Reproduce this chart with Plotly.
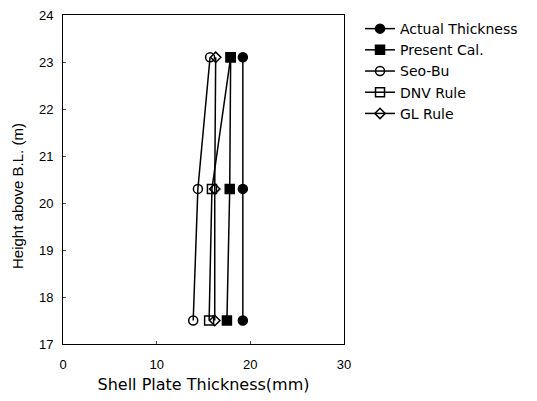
import plotly.graph_objects as go

height = [17.5, 20.3, 23.1]
actual = [19.2, 19.2, 19.2]
present = [17.5, 17.8, 17.9]
seobu = [13.9, 14.4, 15.7]
dnv = [15.6, 15.9, 17.9]
gl = [16.2, 16.2, 16.3]

names = ["Actual Thickness", "Present Cal.", "Seo-Bu", "DNV Rule", "GL Rule"]
symbols = ["circle", "square", "circle-open", "square-open", "diamond-open"]
sizes = [9, 9, 9, 9, 8]
series = [actual, present, seobu, dnv, gl]

fig = go.Figure()
for name, sym, sz, xs in zip(names, symbols, sizes, series):
    fig.add_trace(go.Scatter(
        x=xs, y=height, mode="lines+markers", name=name,
        line=dict(color="black", width=1.5),
        marker=dict(symbol=sym, size=sz, color="black", line=dict(color="black", width=1.5)),
    ))

fig.add_annotation(text="Height above B.L. (m)", textangle=-90,
                   xref="paper", yref="paper", x=-0.16, y=0.45,
                   showarrow=False, xanchor="center", yanchor="middle",
                   font=dict(size=15, family="Liberation Sans, Arial"))

fig.update_layout(
    width=537, height=401,
    margin=dict(l=63, r=193, t=15, b=57, autoexpand=False),
    paper_bgcolor="white", plot_bgcolor="white",
    font=dict(family="Liberation Sans, Arial, sans-serif", size=13, color="black"),
    legend=dict(x=1.057, y=1.006, xanchor="left", yanchor="top",
                font=dict(size=14, family="DejaVu Sans"), bgcolor="rgba(0,0,0,0)"),
    xaxis=dict(range=[0, 30], tickvals=[0, 10, 20, 30], ticks="inside", ticklen=3,
               showgrid=False, zeroline=False, showline=True, linecolor="black",
               linewidth=1, mirror=True, ticklabelstandoff=8,
               title=dict(text="Shell Plate Thickness(mm)", standoff=8,
                          font=dict(size=16, family="DejaVu Sans"))),
    yaxis=dict(range=[17, 24], dtick=1, ticks="inside", ticklen=3,
               showgrid=False, zeroline=False, showline=True, linecolor="black",
               linewidth=1, mirror=True, ticklabelstandoff=6),
)

fig.write_html("out.html")
